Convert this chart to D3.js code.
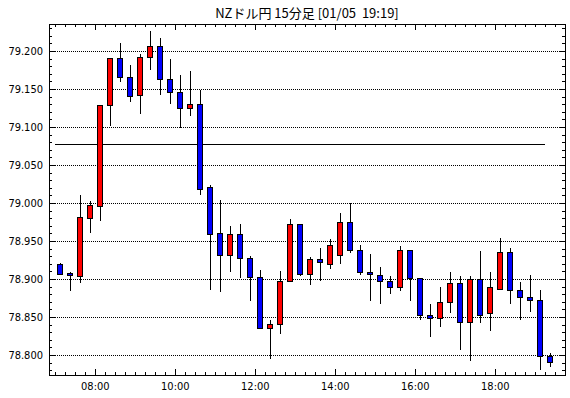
<!DOCTYPE html>
<html>
<head>
<meta charset="utf-8">
<script src="https://cdn.jsdelivr.net/npm/d3@7"></script>
<style>
  body { margin: 0; background: #fff; }
  svg { display: block; }
  text { font-family: "Liberation Sans Narrow", "DejaVu Sans Condensed", "Liberation Sans", sans-serif; font-size: 11px; fill: #000; }
</style>
</head>
<body>
<svg id="chart" width="570" height="398"></svg>
<script>
// NZD/JPY 15 minute candles, 01/05
const title = "NZドル円 15分足 [01/05  19:19]"
const times = ["07:00","07:15","07:30","07:45","08:00","08:15","08:30","08:45","09:00","09:15",
  "09:30","09:45","10:00","10:15","10:30","10:45","11:00","11:15","11:30","11:45",
  "12:00","12:15","12:30","12:45","13:00","13:15","13:30","13:45","14:00","14:15",
  "14:30","14:45","15:00","15:15","15:30","15:45","16:00","16:15","16:30","16:45",
  "17:00","17:15","17:30","17:45","18:00","18:15","18:30","18:45","19:00","19:15"]
const open  = [78.920,78.908,78.904,78.980,78.996,79.129,79.191,79.166,79.142,79.192,
  79.207,79.163,79.146,79.125,79.130,79.021,78.960,78.931,78.959,78.927,
  78.902,78.836,78.841,78.898,78.972,78.906,78.926,78.920,78.932,78.975,
  78.938,78.909,78.905,78.897,78.890,78.938,78.901,78.853,78.849,78.870,
  78.895,78.843,78.900,78.855,78.887,78.935,78.886,78.876,78.873,78.799]
const high  = [78.922,78.911,79.012,79.004,79.129,79.192,79.212,79.183,79.197,79.227,
  79.219,79.191,79.170,79.175,79.150,79.025,79.005,78.971,78.974,78.931,
  78.913,78.847,78.912,78.980,78.974,78.930,78.942,78.954,78.988,79.001,
  78.946,78.934,78.917,78.905,78.945,78.938,78.902,78.869,78.891,78.910,
  78.905,78.905,78.938,78.910,78.955,78.942,78.898,78.906,78.887,78.804]
const low   = [78.907,78.886,78.896,78.962,78.978,79.102,79.160,79.134,79.119,79.176,
  79.143,79.131,79.100,79.116,79.012,78.887,78.884,78.911,78.903,78.873,
  78.835,78.796,78.829,78.897,78.905,78.894,78.899,78.915,78.921,78.936,
  78.907,78.873,78.869,78.882,78.886,78.873,78.848,78.825,78.838,78.857,
  78.808,78.793,78.844,78.833,78.887,78.869,78.848,78.858,78.782,78.785]
const close = [78.907,78.905,78.982,78.997,79.129,79.191,79.166,79.141,79.192,79.207,
  79.163,79.146,79.125,79.130,79.019,78.959,78.931,78.959,78.927,78.902,
  78.836,78.841,78.898,78.972,78.906,78.926,78.922,78.945,78.975,78.938,
  78.909,78.906,78.897,78.890,78.938,78.901,78.853,78.849,78.870,78.895,
  78.843,78.900,78.853,78.889,78.935,78.886,78.876,78.873,78.799,78.791]
const refLevel = 79.078
const yLabels = [78.800,78.850,78.900,78.950,79.000,79.050,79.100,79.150,79.200]
const xLabels = ["08:00","10:00","12:00","14:00","16:00","18:00"]

const parse = d3.timeParse("%H:%M")
const candles = times.map((t, i) => ({t: parse(t), o: open[i], h: high[i], l: low[i], c: close[i]}))

const pLeft = 49, pRight = 565, pTop = 24, pBottom = 375
const svg = d3.select("#chart")

const x = d3.scaleTime()
  .domain([parse("06:50").getTime() + 30000, parse("19:44").getTime() + 30000])
  .range([pLeft, pRight])
const y = d3.scaleLinear()
  .domain([78.7737, 79.2355])
  .range([pBottom, pTop])

const px = v => Math.round(v) + 0.5
const half = 7.5 * 60000

//title
svg.append("text")
  .attr("x", (pLeft + pRight) / 2)
  .attr("y", 18)
  .attr("text-anchor", "middle")
  .style("white-space", "pre")
  .style("font-family", "'Noto Sans CJK JP', sans-serif")
  .style("font-size", "13px")
  .text(title)

//dotted grid
svg.append("g")
  .selectAll("line")
  .data(yLabels)
  .join("line")
  .attr("x1", pLeft).attr("x2", pRight)
  .attr("y1", d => px(y(d))).attr("y2", d => px(y(d)))
  .attr("stroke", "#000")
  .attr("stroke-dasharray", "1,1")
  .attr("shape-rendering", "crispEdges")

//frame ticks, minor every 15 min / 0.01, major at labels
const xTicks = d3.timeMinute.every(15).range(x.domain()[0], x.domain()[1])
const majorX = new Set(xLabels.map(s => parse(s).getTime()))
const yTicks = d3.range(78.78, 79.235, 0.01).map(v => +v.toFixed(2))
const majorY = new Set(yLabels.map(v => v.toFixed(2)))

const ticks = svg.append("g")
  .attr("stroke", "#000")
  .attr("shape-rendering", "crispEdges")
xTicks.forEach(t => {
  let len = majorX.has(t.getTime()) ? 6 : 3
  ticks.append("line").attr("x1", px(x(t))).attr("x2", px(x(t))).attr("y1", pTop).attr("y2", pTop + len)
  ticks.append("line").attr("x1", px(x(t))).attr("x2", px(x(t))).attr("y1", pBottom).attr("y2", pBottom - len)
})
yTicks.forEach(v => {
  let len = majorY.has(v.toFixed(2)) ? 6 : 3
  ticks.append("line").attr("x1", pLeft).attr("x2", pLeft + len).attr("y1", px(y(v))).attr("y2", px(y(v)))
  ticks.append("line").attr("x1", pRight).attr("x2", pRight - len).attr("y1", px(y(v))).attr("y2", px(y(v)))
})

//reference level
svg.append("line")
  .attr("x1", x(candles[0].t)).attr("x2", x(candles[candles.length - 1].t))
  .attr("y1", px(y(refLevel))).attr("y2", px(y(refLevel)))
  .attr("stroke", "#000")
  .attr("shape-rendering", "crispEdges")

//candles
const cx = d => Math.floor(x(d.t.getTime() + half))
const g = svg.append("g").attr("shape-rendering", "crispEdges")
g.selectAll("line")
  .data(candles)
  .join("line")
  .attr("x1", d => cx(d) + 0.5).attr("x2", d => cx(d) + 0.5)
  .attr("y1", d => px(y(d.h))).attr("y2", d => px(y(d.l)))
  .attr("stroke", "#000")
g.selectAll("rect")
  .data(candles)
  .join("rect")
  .attr("x", d => cx(d) - 2.5)
  .attr("width", 5)
  .attr("y", d => px(y(Math.max(d.o, d.c))))
  .attr("height", d => Math.max(1, px(y(Math.min(d.o, d.c))) - px(y(Math.max(d.o, d.c)))))
  .attr("fill", d => d.c >= d.o ? "#ff0000" : "#0000ff")
  .attr("stroke", "#000")

//frame
svg.append("rect")
  .attr("x", pLeft + 0.5).attr("y", pTop + 0.5)
  .attr("width", pRight - pLeft).attr("height", pBottom - pTop)
  .attr("fill", "none")
  .attr("stroke", "#000")
  .attr("shape-rendering", "crispEdges")

//labels
svg.append("g")
  .selectAll("text")
  .data(yLabels)
  .join("text")
  .attr("x", 43)
  .attr("y", d => y(d) + 4)
  .attr("text-anchor", "end")
  .text(d => d.toFixed(3))

svg.append("g")
  .selectAll("text")
  .data(xLabels)
  .join("text")
  .attr("x", d => x(parse(d)))
  .attr("y", 390)
  .attr("text-anchor", "middle")
  .text(d => d)
</script>
</body>
</html>
